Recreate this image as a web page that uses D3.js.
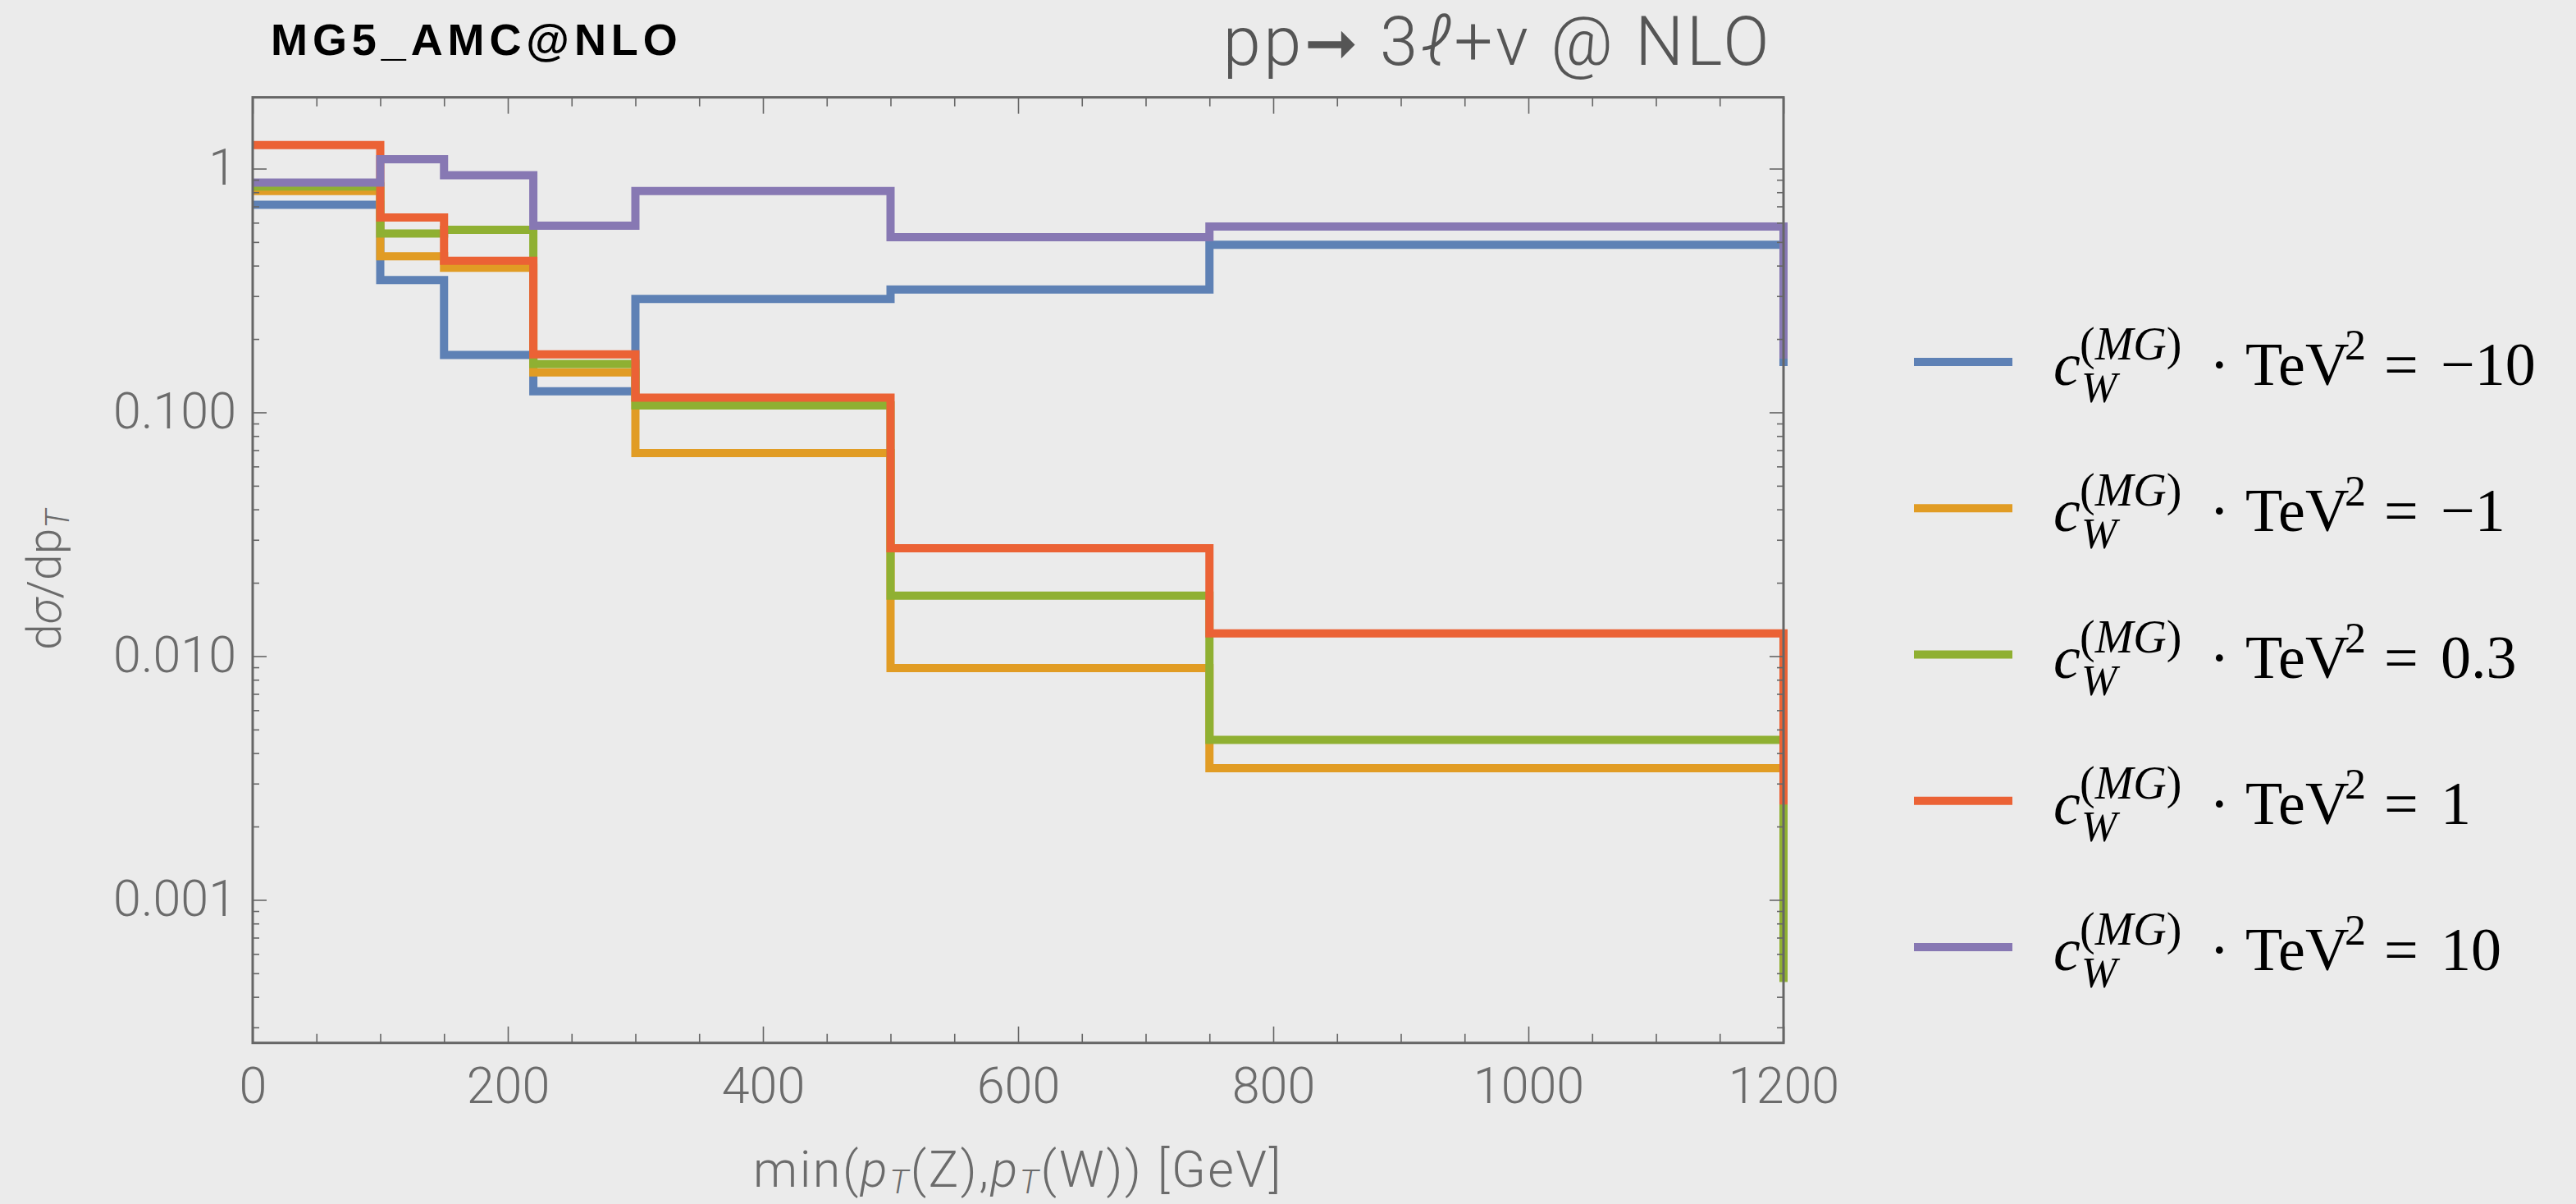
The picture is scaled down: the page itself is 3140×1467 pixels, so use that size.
<!DOCTYPE html>
<html>
<head>
<meta charset="utf-8">
<script src="https://cdn.jsdelivr.net/npm/d3@7"></script>
<style>
  html, body { margin: 0; padding: 0; background: #ebebeb; }
  svg { display: block; }
</style>
</head>
<body>
<script>
// Bin edges of min(pT(Z), pT(W)) in GeV
const binEdges = [0, 100, 150, 220, 300, 500, 750, 1200];

// dσ/dpT per bin, one array per coefficient value; the last entry is the
// value the step falls to at the right edge of the range
const cwMinus10 = [0.711, 0.349, 0.172, 0.122, 0.292, 0.319, 0.487, 0.155];
const cwMinus1  = [0.81, 0.437, 0.392, 0.146, 0.0681, 0.00893, 0.00347, 0.0012];
const cw0p3     = [0.844, 0.542, 0.561, 0.158, 0.1067, 0.0177, 0.00453, 0.00046];
const cwPlus1   = [1.249, 0.630, 0.419, 0.173, 0.115, 0.0277, 0.0124, 0.00246];
const cwPlus10  = [0.876, 1.092, 0.940, 0.583, 0.81, 0.523, 0.579, 0.166];

const seriesValues = [cwMinus10, cwMinus1, cw0p3, cwPlus1, cwPlus10];
const legendValues = ["\u221210", "\u22121", "0.3", "1", "10"];
const seriesColors = ["#5E81B5", "#E19C24", "#8FB032", "#EB6235", "#8778B3"];

const xMajorTicks = [0, 200, 400, 600, 800, 1000, 1200];
const yMajorTicks = [0.001, 0.01, 0.1, 1];
const yTickLabels = ["0.001", "0.010", "0.100", "1"];

const W = 3140, H = 1467;
const plot = { left: 308, right: 2174, top: 118.6, bottom: 1270.7 };

const svg = d3.select("body").append("svg")
  .attr("width", W).attr("height", H);

svg.append("rect").attr("width", W).attr("height", H).attr("fill", "#ebebeb");

const x = d3.scaleLinear().domain([0, 1200]).range([plot.left, plot.right]);
const y = d3.scaleLog().domain([2.59e-4, 1.961]).range([plot.bottom, plot.top]);

// step lines
const step = d3.line()
  .x(d => x(d[0]))
  .y(d => y(d[1]))
  .curve(d3.curveStepAfter);

const lineLayer = svg.append("g");
seriesValues.forEach((vals, i) => {
  const last = binEdges[binEdges.length - 1];
  const pts = vals.map((v, k) => [k < binEdges.length - 1 ? binEdges[k] : last, v]);
  lineLayer.append("path")
    .attr("d", step(pts))
    .attr("fill", "none")
    .attr("stroke", seriesColors[i])
    .attr("stroke-width", 10)
    .attr("stroke-linejoin", "miter")
    .attr("stroke-linecap", "butt");
});

// axes
const tickColor = "#666666";
const labelFont = "Roboto, 'Open Sans', 'Liberation Sans', sans-serif";

function styleAxis(g) {
  g.select(".domain").remove();
  g.selectAll(".tick line").attr("stroke", tickColor).attr("stroke-width", 1.6);
  g.selectAll(".tick text")
    .attr("fill", "#6b6b6b")
    .attr("font-family", labelFont)
    .attr("font-weight", 300)
    .attr("font-size", 61);
}

const xMinor = d3.range(0, 1201, 50).filter(v => v % 200 !== 0);

// bottom
svg.append("g").attr("transform", `translate(0,${plot.bottom})`)
  .call(d3.axisBottom(x).tickValues(xMajorTicks).tickSize(-20).tickPadding(30).tickFormat(d3.format("d")))
  .call(styleAxis);
svg.append("g").attr("transform", `translate(0,${plot.bottom})`)
  .call(d3.axisBottom(x).tickValues(xMinor).tickSize(-11).tickFormat(""))
  .call(styleAxis);
// top
svg.append("g").attr("transform", `translate(0,${plot.top})`)
  .call(d3.axisTop(x).tickValues(xMajorTicks).tickSize(-20).tickFormat(""))
  .call(styleAxis);
svg.append("g").attr("transform", `translate(0,${plot.top})`)
  .call(d3.axisTop(x).tickValues(xMinor).tickSize(-11).tickFormat(""))
  .call(styleAxis);

const yMinor = [];
[-4, -3, -2, -1, 0].forEach(e => {
  for (let m = 2; m <= 9; m++) {
    const v = m * Math.pow(10, e);
    if (v >= y.domain()[0] && v <= y.domain()[1]) yMinor.push(v);
  }
});

// left
svg.append("g").attr("transform", `translate(${plot.left},0)`)
  .call(d3.axisLeft(y).tickValues(yMajorTicks).tickSize(-17).tickPadding(20)
    .tickFormat((d, i) => yTickLabels[i]))
  .call(styleAxis);
svg.append("g").attr("transform", `translate(${plot.left},0)`)
  .call(d3.axisLeft(y).tickValues(yMinor).tickSize(-8).tickFormat(""))
  .call(styleAxis);
// right
svg.append("g").attr("transform", `translate(${plot.right},0)`)
  .call(d3.axisRight(y).tickValues(yMajorTicks).tickSize(-17).tickFormat(""))
  .call(styleAxis);
svg.append("g").attr("transform", `translate(${plot.right},0)`)
  .call(d3.axisRight(y).tickValues(yMinor).tickSize(-8).tickFormat(""))
  .call(styleAxis);

// frame
svg.append("rect")
  .attr("x", plot.left).attr("y", plot.top)
  .attr("width", plot.right - plot.left).attr("height", plot.bottom - plot.top)
  .attr("fill", "none").attr("stroke", tickColor).attr("stroke-width", 3);

// axis titles
const xt = svg.append("text")
  .attr("x", (plot.left + plot.right) / 2).attr("y", 1446)
  .attr("text-anchor", "middle")
  .attr("font-family", labelFont).attr("font-weight", 300).attr("font-size", 61)
  .attr("letter-spacing", 2.5)
  .attr("fill", "#6b6b6b");
xt.append("tspan").text("min(");
xt.append("tspan").attr("font-style", "italic").text("p");
xt.append("tspan").attr("font-style", "italic").attr("font-size", 40).attr("dy", 8).text("T");
xt.append("tspan").attr("dy", -8).text("(Z),");
xt.append("tspan").attr("font-style", "italic").text("p");
xt.append("tspan").attr("font-style", "italic").attr("font-size", 40).attr("dy", 8).text("T");
xt.append("tspan").attr("dy", -8).text("(W)) [GeV]");

const yt = svg.append("text")
  .attr("transform", `translate(74,792) rotate(-90)`)
  .attr("text-anchor", "start")
  .attr("font-family", labelFont).attr("font-weight", 300).attr("font-size", 57)
  .attr("fill", "#6b6b6b");
yt.append("tspan").text("d");
yt.append("tspan").attr("font-style", "italic").text("σ");
yt.append("tspan").text("/dp");
yt.append("tspan").attr("font-style", "italic").attr("font-size", 40).attr("dy", 10).text("T");

// titles
svg.append("text")
  .attr("x", 330).attr("y", 67)
  .attr("font-family", "'Liberation Sans', Arial, sans-serif")
  .attr("font-weight", "bold").attr("font-size", 54)
  .attr("letter-spacing", 5.9)
  .attr("fill", "#000")
  .text("MG5_AMC@NLO");

const tt = svg.append("text")
  .attr("x", 2160).attr("y", 79)
  .attr("text-anchor", "end")
  .attr("font-family", labelFont).attr("font-weight", 300).attr("font-size", 83)
  .attr("letter-spacing", 3.5)
  .attr("fill", "#555555");
tt.append("tspan").text("pp");
tt.append("tspan").attr("font-family", "'DejaVu Sans', sans-serif").attr("font-size", 78)
  .text("\u279E");
tt.append("tspan").text(" 3");
tt.append("tspan").attr("font-style", "italic").text("\u2113");
tt.append("tspan").text("+v @ NLO");

// legend
const serif = "'Liberation Serif', 'Times New Roman', serif";
const legendTop = 441, legendStep = 178.25;
const legend = svg.append("g");
legendValues.forEach((val, i) => {
  const ly = legendTop + i * legendStep;
  const base = ly + 28;
  const row = legend.append("g");
  row.append("line")
    .attr("x1", 2333).attr("x2", 2453).attr("y1", ly).attr("y2", ly)
    .attr("stroke", seriesColors[i]).attr("stroke-width", 10);
  const label = row.append("text")
    .attr("font-family", serif).attr("fill", "#000");
  label.append("tspan").attr("x", 2503).attr("y", base)
    .attr("font-size", 74).attr("font-style", "italic").text("c");
  label.append("tspan").attr("x", 2535).attr("y", base - 31)
    .attr("font-size", 56).text("(");
  label.append("tspan").attr("font-size", 56).attr("font-style", "italic").text("MG");
  label.append("tspan").attr("font-size", 56).text(")");
  label.append("tspan").attr("x", 2537).attr("y", base + 21)
    .attr("font-size", 52).attr("font-style", "italic").text("W");
  label.append("tspan").attr("x", 2693).attr("y", base)
    .attr("font-size", 74).text("\u00B7");
  label.append("tspan").attr("x", 2737).attr("y", base)
    .attr("font-size", 74).text("TeV");
  label.append("tspan").attr("x", 2858).attr("y", base - 31)
    .attr("font-size", 52).text("2");
  label.append("tspan").attr("x", 2906).attr("y", base)
    .attr("font-size", 74).text("=");
  label.append("tspan").attr("x", 2975).attr("y", base)
    .attr("font-size", 74).text(val);
});
</script>
</body>
</html>
